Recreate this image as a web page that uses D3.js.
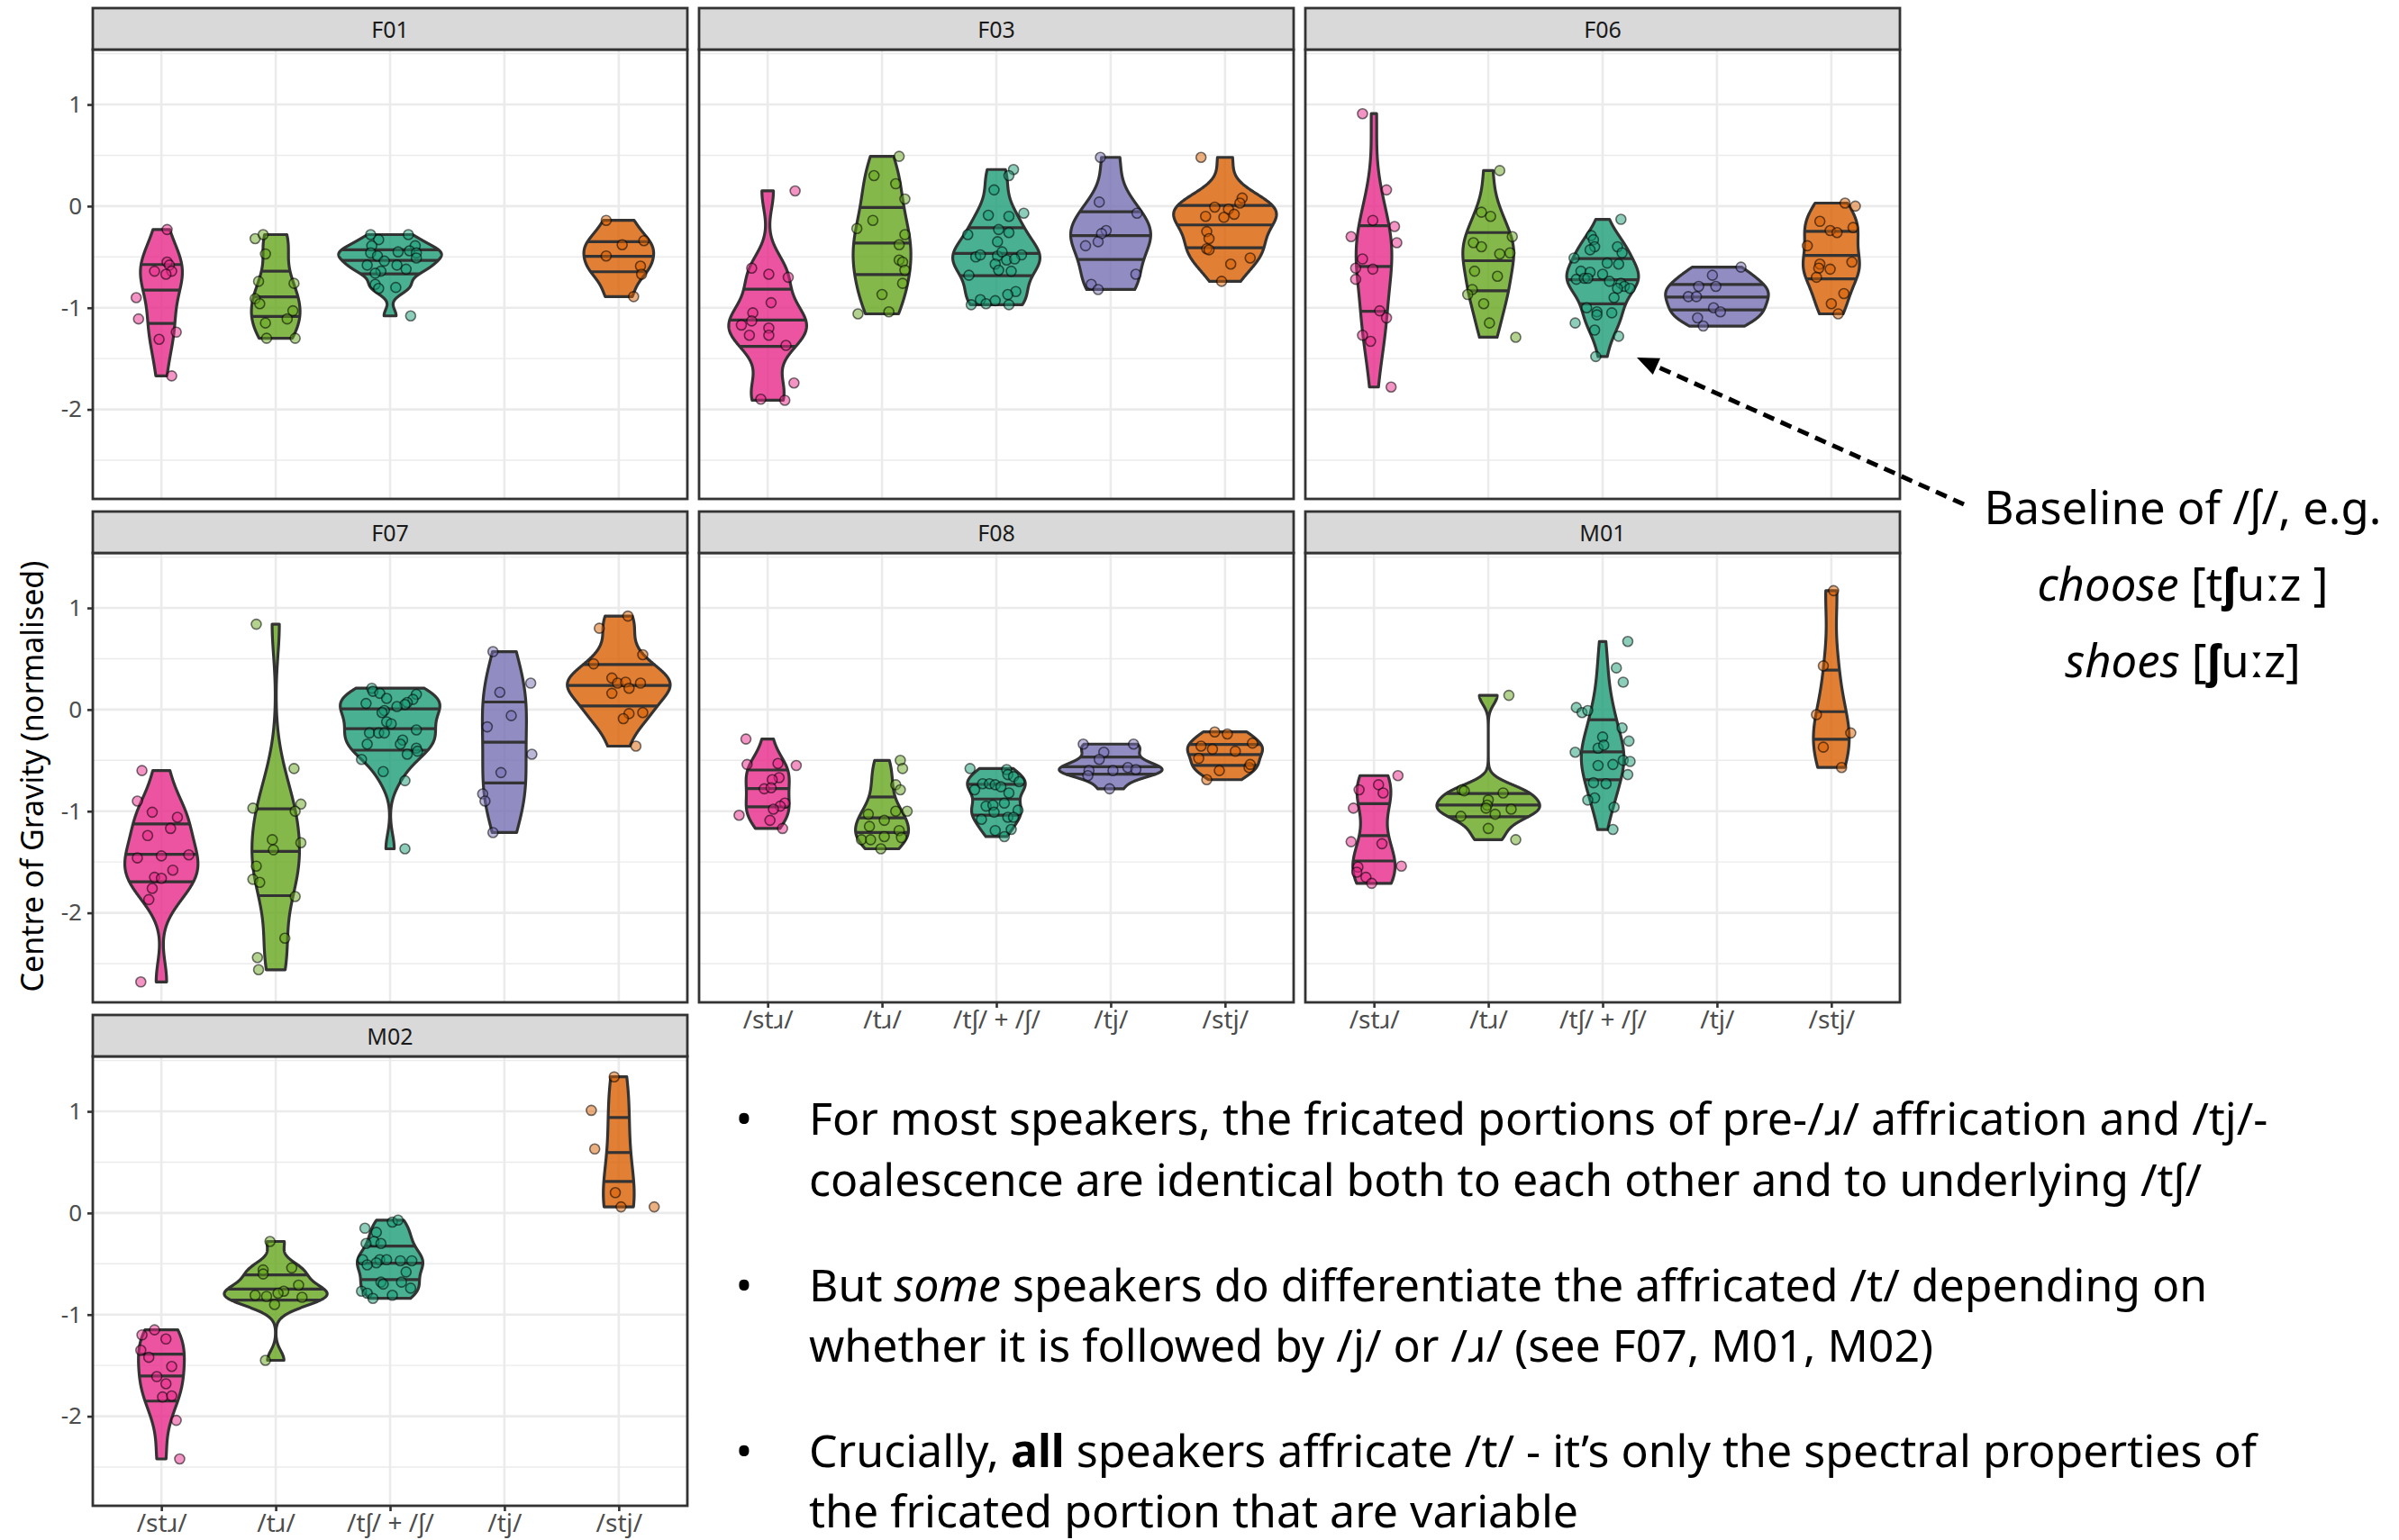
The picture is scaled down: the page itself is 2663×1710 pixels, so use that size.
<!DOCTYPE html>
<html>
<head>
<meta charset="utf-8">
<script src="https://cdn.jsdelivr.net/npm/d3@7"></script>
<style>
  body { margin: 0; background: #fff; }
  text { font-family: "Noto Sans", "DejaVu Sans", sans-serif; }
</style>
</head>
<body>
<svg id="chart"></svg>
<script>
var W = 2663, H = 1710;

var categories = ["stɹ", "tɹ", "tʃ", "tj", "stj"];
var tickLabels = ["/stɹ/", "/tɹ/", "/tʃ/ + /ʃ/", "/tj/", "/stj/"];
var colours = ["#E7298A", "#66A61E", "#1B9E77", "#7570B3", "#D95F02"];
var speakers = ["F01", "F03", "F06", "F07", "F08", "M01", "M02"];
var yTicks = [-2, -1, 0, 1];

// each point: [horizontal jitter (in category widths), centre of gravity]
var F01_str = [[0.05,-0.23],[0.05,-0.55],[0.07,-0.58],[-0.06,-0.64],[0.09,-0.64],[0.04,-0.67],[-0.22,-0.90],[-0.20,-1.11],[0.13,-1.24],[-0.02,-1.31],[0.09,-1.67]];
var F01_tr = [[-0.18,-0.32],[-0.11,-0.28],[-0.09,-0.47],[-0.15,-0.74],[0.16,-0.76],[-0.18,-0.91],[-0.14,-0.96],[0.15,-1.03],[-0.09,-1.15],[0.10,-1.11],[-0.08,-1.30],[0.17,-1.30]];
var F01_tsh = [[-0.17,-0.28],[0.16,-0.28],[-0.10,-0.33],[-0.16,-0.39],[-0.17,-0.46],[0.07,-0.45],[0.22,-0.39],[0.17,-0.44],[0.23,-0.46],[-0.11,-0.49],[-0.05,-0.54],[0.23,-0.51],[-0.20,-0.58],[0.06,-0.58],[0.14,-0.62],[-0.08,-0.64],[-0.13,-0.66],[-0.13,-0.77],[-0.10,-0.81],[0.05,-0.80],[0.18,-1.08]];
var F01_stj = [[-0.11,-0.14],[0.03,-0.38],[0.22,-0.34],[-0.11,-0.49],[0.19,-0.59],[0.20,-0.67],[0.13,-0.89]];

var F03_str = [[0.24,0.15],[-0.14,-0.61],[0.01,-0.67],[0.18,-0.70],[0.03,-0.95],[-0.13,-1.05],[-0.14,-1.13],[-0.23,-1.17],[-0.16,-1.27],[0.01,-1.20],[0.01,-1.27],[0.16,-1.37],[0.23,-1.74],[-0.06,-1.90],[0.15,-1.91]];
var F03_tr = [[0.15,0.49],[-0.07,0.30],[0.12,0.22],[0.20,0.07],[-0.08,-0.14],[-0.22,-0.22],[0.20,-0.28],[0.15,-0.38],[0.15,-0.53],[0.18,-0.55],[0.20,-0.63],[0.18,-0.76],[0.00,-0.87],[0.06,-1.04],[-0.21,-1.06]];
var F03_tsh = [[0.15,0.36],[0.11,0.30],[-0.02,0.16],[0.24,-0.07],[-0.07,-0.09],[0.11,-0.10],[-0.25,-0.28],[0.02,-0.23],[0.11,-0.26],[0.01,-0.35],[-0.18,-0.50],[-0.14,-0.48],[0.01,-0.49],[0.05,-0.45],[0.22,-0.48],[0.09,-0.53],[0.16,-0.52],[-0.01,-0.57],[-0.24,-0.68],[0.02,-0.63],[0.13,-0.64],[0.17,-0.84],[0.10,-0.87],[-0.14,-0.92],[-0.22,-0.97],[-0.09,-0.96],[-0.01,-0.93],[0.11,-0.97]];
var F03_tj = [[-0.09,0.48],[-0.10,0.04],[0.23,-0.07],[-0.04,-0.24],[-0.08,-0.27],[-0.11,-0.35],[-0.22,-0.39],[0.22,-0.67],[-0.17,-0.77],[-0.11,-0.82]];
var F03_stj = [[-0.21,0.48],[0.15,0.08],[0.13,0.03],[-0.09,-0.01],[0.03,-0.03],[0.08,-0.08],[-0.01,-0.11],[-0.17,-0.10],[-0.16,-0.25],[-0.14,-0.32],[-0.16,-0.42],[-0.14,-0.43],[0.05,-0.57],[0.22,-0.51],[-0.03,-0.74]];

var F06_str = [[-0.10,0.91],[0.11,0.16],[-0.01,-0.14],[0.18,-0.20],[-0.20,-0.30],[0.20,-0.36],[-0.10,-0.52],[-0.16,-0.61],[-0.01,-0.62],[-0.16,-0.72],[0.05,-1.03],[0.11,-1.10],[-0.10,-1.27],[-0.03,-1.33],[0.15,-1.78]];
var F06_tr = [[0.10,0.35],[-0.06,-0.06],[0.02,-0.10],[0.21,-0.30],[-0.13,-0.36],[-0.06,-0.40],[0.10,-0.47],[0.19,-0.46],[-0.12,-0.64],[0.08,-0.69],[-0.14,-0.82],[-0.18,-0.87],[-0.04,-0.96],[0.01,-1.15],[0.24,-1.29]];
var F06_tsh = [[0.16,-0.13],[-0.10,-0.29],[-0.08,-0.33],[-0.07,-0.40],[-0.11,-0.43],[0.13,-0.40],[0.17,-0.46],[-0.25,-0.51],[0.04,-0.56],[0.14,-0.57],[-0.19,-0.64],[-0.11,-0.65],[0.00,-0.67],[-0.23,-0.72],[-0.16,-0.71],[-0.13,-0.71],[0.06,-0.74],[0.16,-0.76],[0.19,-0.79],[0.24,-0.81],[0.13,-0.81],[0.10,-0.90],[-0.14,-1.00],[-0.05,-1.04],[-0.05,-1.07],[0.08,-1.05],[-0.24,-1.15],[-0.07,-1.22],[0.14,-1.28],[-0.06,-1.48]];
var F06_tj = [[0.21,-0.60],[-0.04,-0.68],[-0.16,-0.79],[-0.01,-0.79],[-0.25,-0.89],[-0.18,-0.89],[-0.03,-1.00],[0.03,-1.04],[-0.17,-1.10],[-0.12,-1.18]];
var F06_stj = [[0.12,0.03],[0.21,0.00],[-0.10,-0.15],[-0.01,-0.24],[0.05,-0.26],[0.19,-0.21],[-0.21,-0.39],[-0.10,-0.57],[-0.11,-0.61],[-0.01,-0.62],[0.18,-0.55],[-0.13,-0.70],[0.11,-0.86],[0.00,-0.96],[0.06,-1.06]];

var F07_str = [[-0.17,-0.60],[-0.21,-0.90],[-0.08,-1.01],[0.14,-1.06],[-0.12,-1.24],[0.08,-1.17],[-0.21,-1.46],[0.00,-1.44],[0.24,-1.43],[0.10,-1.58],[-0.06,-1.65],[0.00,-1.66],[-0.08,-1.76],[-0.11,-1.87],[-0.18,-2.68]];
var F07_tr = [[-0.17,0.84],[0.16,-0.58],[-0.20,-0.97],[0.22,-0.93],[0.17,-1.00],[-0.03,-1.28],[-0.02,-1.38],[0.22,-1.31],[-0.17,-1.54],[-0.20,-1.67],[-0.14,-1.70],[0.17,-1.84],[0.08,-2.25],[-0.16,-2.44],[-0.15,-2.56]];
var F07_tsh = [[-0.16,0.21],[-0.15,0.18],[-0.09,0.16],[-0.03,0.11],[0.23,0.15],[0.20,0.10],[0.15,0.07],[0.13,0.05],[0.06,0.03],[-0.21,0.06],[-0.05,-0.01],[-0.07,-0.03],[-0.03,-0.12],[0.01,-0.14],[0.23,-0.20],[-0.18,-0.23],[-0.10,-0.23],[-0.05,-0.23],[0.11,-0.30],[0.09,-0.34],[-0.20,-0.34],[0.23,-0.38],[0.24,-0.41],[0.15,-0.44],[-0.25,-0.49],[-0.06,-0.61],[0.13,-0.70],[0.13,-1.37]];
var F07_tj = [[-0.10,0.57],[0.23,0.26],[-0.04,0.17],[0.06,-0.06],[-0.15,-0.17],[0.24,-0.44],[-0.03,-0.62],[-0.19,-0.83],[-0.17,-0.90],[-0.10,-1.21]];
var F07_stj = [[0.08,0.92],[-0.17,0.80],[0.21,0.54],[-0.22,0.45],[-0.06,0.31],[-0.01,0.26],[0.06,0.27],[0.09,0.21],[0.19,0.26],[-0.06,0.16],[0.09,-0.04],[0.21,-0.03],[0.04,-0.09],[0.15,-0.36]];

var F08_str = [[-0.19,-0.29],[-0.18,-0.54],[0.09,-0.53],[0.25,-0.55],[0.10,-0.67],[0.04,-0.69],[-0.03,-0.78],[0.03,-0.77],[0.15,-0.92],[0.11,-0.95],[0.05,-0.98],[-0.25,-1.04],[0.02,-1.09],[0.13,-1.17]];
var F08_tr = [[0.16,-0.50],[0.18,-0.58],[0.12,-0.74],[0.16,-0.79],[0.22,-1.00],[0.12,-1.00],[-0.12,-1.03],[0.02,-1.09],[-0.11,-1.15],[0.15,-1.19],[-0.18,-1.28],[-0.10,-1.28],[0.02,-1.25],[0.17,-1.26],[-0.01,-1.37]];
var F08_tsh = [[-0.23,-0.58],[0.09,-0.59],[0.10,-0.64],[0.15,-0.66],[-0.12,-0.73],[-0.06,-0.73],[-0.01,-0.74],[0.04,-0.76],[-0.19,-0.79],[0.11,-0.82],[0.20,-0.71],[-0.09,-0.95],[-0.03,-0.94],[0.07,-0.92],[-0.02,-1.01],[0.19,-0.99],[-0.13,-1.08],[0.10,-1.06],[0.15,-1.06],[-0.01,-1.19],[0.13,-1.18],[0.07,-1.25]];
var F08_tj = [[-0.24,-0.34],[0.20,-0.34],[-0.06,-0.42],[-0.10,-0.49],[-0.19,-0.60],[0.02,-0.60],[0.15,-0.57],[0.22,-0.59],[-0.20,-0.65],[-0.01,-0.78]];
var F08_stj = [[-0.09,-0.22],[0.02,-0.24],[-0.21,-0.36],[-0.11,-0.39],[0.09,-0.41],[0.24,-0.33],[-0.23,-0.48],[-0.05,-0.60],[0.21,-0.57],[0.22,-0.54],[-0.16,-0.69]];

var M01_str = [[0.21,-0.65],[0.04,-0.74],[-0.13,-0.79],[0.08,-0.82],[-0.18,-0.97],[-0.20,-1.30],[0.07,-1.32],[0.24,-1.54],[-0.14,-1.55],[-0.15,-1.60],[-0.07,-1.65],[-0.02,-1.71]];
var M01_tr = [[0.18,0.14],[-0.23,-0.79],[-0.21,-0.80],[0.13,-0.82],[0.00,-0.89],[-0.01,-0.94],[-0.02,-0.97],[0.20,-0.98],[0.06,-1.03],[-0.24,-1.05],[0.00,-1.17],[0.24,-1.28]];
var M01_tsh = [[0.22,0.67],[0.12,0.41],[0.18,0.27],[-0.23,0.02],[-0.18,-0.03],[-0.13,-0.01],[0.17,-0.18],[0.00,-0.27],[0.23,-0.31],[-0.04,-0.38],[0.01,-0.35],[-0.24,-0.42],[0.18,-0.50],[0.24,-0.51],[-0.04,-0.55],[0.09,-0.54],[0.22,-0.64],[-0.08,-0.72],[0.03,-0.73],[-0.07,-0.87],[-0.13,-0.89],[0.10,-0.96],[0.09,-1.18]];
var M01_stj = [[0.02,1.17],[-0.07,0.43],[-0.13,-0.05],[0.17,-0.23],[-0.07,-0.37],[0.09,-0.57]];

var M02_str = [[-0.06,-1.15],[-0.17,-1.20],[0.04,-1.24],[-0.18,-1.35],[-0.11,-1.42],[0.09,-1.51],[-0.04,-1.61],[0.04,-1.68],[0.01,-1.81],[0.09,-1.80],[0.13,-2.04],[0.16,-2.42]];
var M02_tr = [[-0.05,-0.28],[-0.11,-0.56],[-0.11,-0.60],[0.14,-0.54],[0.20,-0.71],[0.07,-0.77],[-0.18,-0.81],[-0.08,-0.82],[0.02,-0.79],[0.23,-0.83],[-0.01,-0.90],[-0.09,-1.45]];
var M02_tsh = [[0.02,-0.09],[0.07,-0.07],[-0.22,-0.15],[-0.12,-0.19],[-0.14,-0.28],[-0.21,-0.30],[-0.08,-0.30],[-0.24,-0.46],[-0.09,-0.46],[-0.03,-0.46],[0.09,-0.47],[0.19,-0.47],[-0.12,-0.49],[-0.20,-0.51],[0.14,-0.58],[-0.08,-0.68],[-0.06,-0.70],[0.10,-0.68],[0.18,-0.74],[-0.25,-0.77],[-0.20,-0.79],[0.02,-0.81],[-0.15,-0.84]];
var M02_stj = [[-0.04,1.34],[-0.24,1.01],[-0.21,0.63],[-0.03,0.20],[0.02,0.06],[0.31,0.06]];

// groups per speaker, in category order (empty = not recorded)
var panelGroups = [
    [F01_str, F01_tr, F01_tsh, [], F01_stj],
    [F03_str, F03_tr, F03_tsh, F03_tj, F03_stj],
    [F06_str, F06_tr, F06_tsh, F06_tj, F06_stj],
    [F07_str, F07_tr, F07_tsh, F07_tj, F07_stj],
    [F08_str, F08_tr, F08_tsh, F08_tj, F08_stj],
    [M01_str, M01_tr, M01_tsh, [], M01_stj],
    [M02_str, M02_tr, M02_tsh, [], M02_stj]
];

var bulletLines = [
    [["For most speakers, the fricated portions of pre-/ɹ/ affrication and /tj/-", ""]],
    [["coalescence are identical both to each other and to underlying /tʃ/", ""]],
    [["But ", ""], ["some", "i"], [" speakers do differentiate the affricated /t/ depending on", ""]],
    [["whether it is followed by /j/ or /ɹ/ (see F07, M01, M02)", ""]],
    [["Crucially, ", ""], ["all", "b"], [" speakers affricate /t/ - it\u2019s only the spectral properties of", ""]],
    [["the fricated portion that are variable", ""]]
];
var noteLines = [
    [["Baseline of /ʃ/, e.g.", ""]],
    [["choose", "i"], [" [t", ""], ["ʃ", "b"], ["uːz ]", ""]],
    [["shoes", "i"], [" [", ""], ["ʃ", "b"], ["uːz]", ""]]
];

// ---- layout ----
var colX = [103, 776, 1449];
var rowY = [9, 568, 1127];
var panelW = 660, panelH = 499, stripH = 46;

var svg = d3.select("#chart").attr("width", W).attr("height", H);
svg.append("rect").attr("width", W).attr("height", H).attr("fill", "#fff");

var allVals = [];
panelGroups.forEach(function (gs) { gs.forEach(function (g) { g.forEach(function (p) { allVals.push(p[1]); }); }); });
var lo = d3.min(allVals), hi = d3.max(allVals), span = hi - lo;

var y = d3.scaleLinear().domain([lo - 0.05 * span, hi + 0.05 * span]).range([panelH, 0]);
var x = d3.scalePoint().domain(categories).range([0, panelW]).padding(0.6);
var step = x.step();
var minorTicks = [-2.5, -1.5, -0.5, 0.5, 1.5].filter(function (v) { return v > y.domain()[0] && v < y.domain()[1]; });

// gaussian kernel density, R's bw.nrd0, trimmed to the data range
function density(vals) {
    var n = vals.length;
    var sorted = vals.slice().sort(d3.ascending);
    var sd = d3.deviation(vals);
    var iqr = d3.quantile(sorted, 0.75) - d3.quantile(sorted, 0.25);
    var s = Math.min(sd, iqr / 1.34);
    if (!(s > 0)) s = sd;
    var bw = 0.9 * s * Math.pow(n, -0.2);
    var mn = sorted[0], mx = sorted[n - 1];
    return d3.range(512).map(function (i) {
        var yy = mn + (mx - mn) * i / 511;
        var d = d3.mean(vals, function (v) { var z = (yy - v) / bw; return Math.exp(-0.5 * z * z); }) / (bw * Math.sqrt(2 * Math.PI));
        return {y: yy, d: d};
    });
}

function quantileYs(dens, probs) {
    var total = d3.sum(dens, function (d) { return d.d; });
    var c = 0;
    var cdf = dens.map(function (d) { c += d.d; return c / total; });
    return probs.map(function (p) {
        var i = d3.bisectLeft(cdf, p);
        if (i <= 0) return dens[0].y;
        if (i >= cdf.length) return dens[dens.length - 1].y;
        var t = (p - cdf[i - 1]) / (cdf[i] - cdf[i - 1]);
        return dens[i - 1].y + t * (dens[i].y - dens[i - 1].y);
    });
}

function densAt(dens, yy) {
    var mn = dens[0].y, mx = dens[dens.length - 1].y;
    var f = (yy - mn) / (mx - mn) * (dens.length - 1);
    var i = Math.max(0, Math.min(dens.length - 2, Math.floor(f)));
    var t = f - i;
    return dens[i].d + t * (dens[i + 1].d - dens[i].d);
}

speakers.forEach(function (name, pi) {
    var col = pi % 3, row = Math.floor(pi / 3);
    var g = svg.append("g").attr("transform", "translate(" + colX[col] + "," + (rowY[row] + stripH) + ")");

    g.append("rect").attr("width", panelW).attr("height", panelH).attr("fill", "#fff");

    g.selectAll(".minor").data(minorTicks).enter().append("line")
        .attr("x1", 0).attr("x2", panelW)
        .attr("y1", function (d) { return y(d); }).attr("y2", function (d) { return y(d); })
        .attr("stroke", "#EBEBEB").attr("stroke-width", 1.4);
    g.selectAll(".majorY").data(yTicks).enter().append("line")
        .attr("x1", 0).attr("x2", panelW)
        .attr("y1", function (d) { return y(d); }).attr("y2", function (d) { return y(d); })
        .attr("stroke", "#EBEBEB").attr("stroke-width", 2.6);
    g.selectAll(".majorX").data(categories).enter().append("line")
        .attr("y1", 0).attr("y2", panelH)
        .attr("x1", function (d) { return x(d); }).attr("x2", function (d) { return x(d); })
        .attr("stroke", "#EBEBEB").attr("stroke-width", 2.6);

    var groups = panelGroups[pi];
    var dens = groups.map(function (pts) {
        return pts.length > 1 ? density(pts.map(function (p) { return p[1]; })) : null;
    });
    var maxD = d3.max(dens, function (ds) { return ds ? d3.max(ds, function (d) { return d.d; }) : 0; });
    var half = 0.45 * step;

    dens.forEach(function (ds, ci) {
        if (!ds) return;
        var cx = x(categories[ci]);
        var area = d3.area()
            .y(function (d) { return y(d.y); })
            .x0(function (d) { return cx - d.d / maxD * half; })
            .x1(function (d) { return cx + d.d / maxD * half; });
        g.append("path").attr("d", area(ds))
            .attr("fill", colours[ci]).attr("fill-opacity", 0.8)
            .attr("stroke", "#333").attr("stroke-width", 3.2).attr("stroke-linejoin", "round");
        quantileYs(ds, [0.25, 0.5, 0.75]).forEach(function (qy) {
            var w = densAt(ds, qy) / maxD * half;
            g.append("line")
                .attr("x1", cx - w).attr("x2", cx + w)
                .attr("y1", y(qy)).attr("y2", y(qy))
                .attr("stroke", "#333").attr("stroke-width", 3.2);
        });
    });

    groups.forEach(function (pts, ci) {
        var cx = x(categories[ci]);
        g.selectAll(".pt" + ci).data(pts).enter().append("circle")
            .attr("cx", function (d) { return cx + d[0] * step; })
            .attr("cy", function (d) { return y(d[1]); })
            .attr("r", 5.5)
            .attr("fill", colours[ci]).attr("fill-opacity", 0.5)
            .attr("stroke", "#000").attr("stroke-opacity", 0.55).attr("stroke-width", 1.6);
    });

    g.append("rect").attr("width", panelW).attr("height", panelH)
        .attr("fill", "none").attr("stroke", "#333").attr("stroke-width", 2.8);

    // facet strip
    g.append("rect").attr("y", -stripH).attr("width", panelW).attr("height", stripH)
        .attr("fill", "#D9D9D9").attr("stroke", "#333").attr("stroke-width", 2.8);
    g.append("text").attr("x", panelW / 2).attr("y", -stripH / 2)
        .attr("text-anchor", "middle").attr("dominant-baseline", "central")
        .style("font-size", "25px").attr("fill", "#1A1A1A").text(name);

    if (col === 0) {
        var ya = g.append("g").call(d3.axisLeft(y).tickValues(yTicks).tickSize(6).tickPadding(6)
            .tickFormat(function (d) { return String(d); }));
        ya.select(".domain").remove();
        ya.selectAll("line").attr("stroke", "#333").attr("stroke-width", 2.6);
        ya.selectAll("text").attr("fill", "#4D4D4D").style("font-size", "26px")
            .style("font-family", "'Noto Sans', sans-serif");
    }
    if (pi + 3 >= speakers.length) {
        var xa = g.append("g").attr("transform", "translate(0," + panelH + ")")
            .call(d3.axisBottom(x).tickSize(6).tickPadding(3)
                .tickFormat(function (d, i) { return tickLabels[i]; }));
        xa.select(".domain").remove();
        xa.selectAll("line").attr("stroke", "#333").attr("stroke-width", 2.6);
        xa.selectAll("text").attr("fill", "#4D4D4D").style("font-size", "28px")
            .style("font-family", "'Noto Sans', sans-serif");
    }
});

svg.append("text")
    .attr("transform", "translate(35,862) rotate(-90)")
    .attr("text-anchor", "middle").attr("dominant-baseline", "central")
    .style("font-size", "34px").attr("fill", "#000")
    .text("Centre of Gravity (normalised)");

// ---- annotation arrow ----
var tail = [2180, 560], tip = [1817, 397];
var dx = tip[0] - tail[0], dy = tip[1] - tail[1], len = Math.sqrt(dx * dx + dy * dy);
var ux = dx / len, uy = dy / len, headL = 24, headW = 10;
var base = [tip[0] - ux * headL, tip[1] - uy * headL];
svg.append("line")
    .attr("x1", tail[0]).attr("y1", tail[1]).attr("x2", base[0]).attr("y2", base[1])
    .attr("stroke", "#000").attr("stroke-width", 5).attr("stroke-dasharray", "13,8");
svg.append("path")
    .attr("d", d3.line()([tip, [base[0] - uy * headW, base[1] + ux * headW], [base[0] + uy * headW, base[1] - ux * headW]]) + "Z")
    .attr("fill", "#000");

function writeLines(sel, lines, xPos, ys, anchor) {
    lines.forEach(function (parts, li) {
        var t = sel.append("text").attr("x", xPos).attr("y", ys[li]).attr("text-anchor", anchor).attr("fill", "#000");
        parts.forEach(function (p) {
            var ts = t.append("tspan").text(p[0]);
            if (p[1] === "i") ts.style("font-style", "italic");
            if (p[1] === "b") ts.style("font-weight", "bold");
        });
    });
}

var note = svg.append("g").style("font-size", "50px");
writeLines(note, noteLines, 2423, [582, 667, 752], "middle");
var nLen = note.select("text").node().getComputedTextLength();
note.style("font-size", (50 * 441 / nLen) + "px");

var bullets = svg.append("g").style("font-size", "46px");
var bulletY = [1260, 1328, 1445, 1512, 1629, 1696];
writeLines(bullets, bulletLines, 898, bulletY, "start");
[0, 2, 4].forEach(function (i) {
    bullets.append("text").attr("x", 826).attr("y", bulletY[i]).attr("text-anchor", "middle").text("\u2022");
});
var bLen = bullets.select("text").node().getComputedTextLength();
bullets.style("font-size", (46 * 1620 / bLen) + "px");
</script>
</body>
</html>
